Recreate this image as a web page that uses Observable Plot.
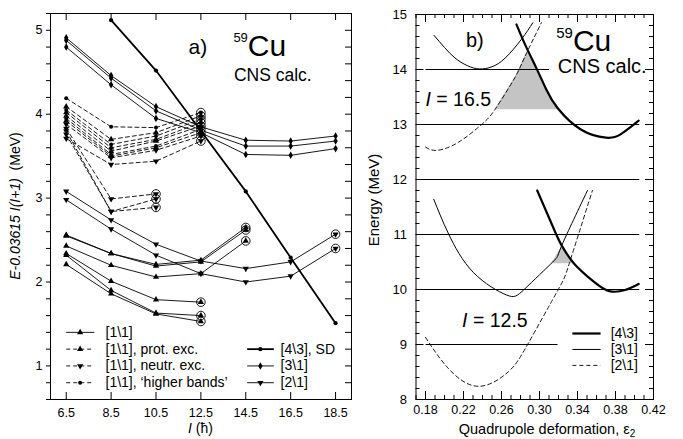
<!DOCTYPE html>
<html><head><meta charset="utf-8">
<script src="https://cdn.jsdelivr.net/npm/d3@7"></script>
<script src="https://cdn.jsdelivr.net/npm/@observablehq/plot@0.6"></script>
<style>
body{margin:0;background:#fff;}
#wrap{display:flex;width:683px;height:439px;overflow:hidden;}
svg{font-family:"Liberation Sans",Arial,sans-serif;overflow:visible;}
</style></head><body><div id="wrap"></div>
<script>
// ---------- Panel a) data ----------
const spins = [6.5, 8.5, 10.5, 12.5, 14.5, 16.5, 18.5];
const spinLabels = ["6.5", "8.5", "10.5", "12.5", "14.5", "16.5", "18.5"];
const yTicksA = [1, 2, 3, 4, 5];
// [4\3], SD
const sd43 = [null, 5.12, 4.52, 3.80, 3.08, 2.29, 1.51];
// [3\1]
const b31a = [4.91, 4.46, 4.09, 3.85, 3.69, 3.68, 3.74];
const b31b = [4.88, 4.43, 4.04, 3.81, 3.62, 3.62, 3.68];
const b31c = [4.80, 4.35, 3.95, 3.78, 3.52, 3.51, 3.59];
// [2\1]
const b21a = [3.08, 2.74, 2.45, 2.25, 2.16, 2.24, 2.57];
const b21b = [2.98, 2.63, 2.32, 2.10, 2.00, 2.07, 2.40];
// [1\1]
const b11a = [2.56, 2.34, 2.21, 2.26, 2.65];
const b11b = [2.55, 2.34, 2.19, 2.24, 2.62];
const b11c = [2.43, 2.20, 2.06, 2.10, 2.49];
const b11d = [2.34, 2.01, 1.79, 1.76];
const b11e = [2.32, 1.90, 1.63, 1.60];
const b11f = [2.21, 1.86, 1.62, 1.53];
// [1\1], 'higher bands'
const hb1 = [4.19, 3.85, 3.84, 4.02];
const hb2 = [4.05, 3.64, 3.74, 3.94];
const hb3 = [3.95, 3.52, 3.62, 3.82];
// [1\1], prot. exc.
const pe1 = [4.09, 3.70, 3.78, 3.98];
const pe2 = [4.02, 3.60, 3.70, 3.90];
const pe3 = [3.98, 3.56, 3.68, 3.86];
const pe4 = [3.92, 3.50, 3.60, 3.78];
// [1\1], neutr. exc.
const ne1 = [3.88, 3.48, 3.57, 3.74];
const ne2 = [3.71, 3.40, 3.44, 3.68];
const ne3 = [3.83, 2.99, 3.05];
const ne4 = [3.80, 2.84, 2.99];
const ne5 = [3.76, 2.84, 2.89];

const legendA = [
  {label: "[1\\1]", kind: "b11", col: 0, row: 0},
  {label: "[1\\1], prot. exc.", kind: "pe", col: 0, row: 1},
  {label: "[1\\1], neutr. exc.", kind: "ne", col: 0, row: 2},
  {label: "[1\\1], ‘higher bands’", kind: "hb", col: 0, row: 3},
  {label: "[4\\3], SD", kind: "sd", col: 1, row: 1},
  {label: "[3\\1]", kind: "b31", col: 1, row: 2},
  {label: "[2\\1]", kind: "b21", col: 1, row: 3}
];

// ---------- Panel b) data ----------
const defTicks = [0.18, 0.22, 0.26, 0.30, 0.34, 0.38, 0.42];
const energyTicks = [8, 9, 10, 11, 12, 13, 14, 15];
const levelE = [14, 13, 12, 11, 10, 9];
const levelFrom = [0.18, 0.175, 0.172, 0.172, 0.172, 0.18];
const levelTo = [0.31, 0.405, 0.405, 0.405, 0.405, 0.319];
// I = 16.5
const c31hi_e = [0.189, 0.200, 0.211, 0.224, 0.237, 0.250, 0.264, 0.281, 0.293];
const c31hi_E = [14.62, 14.40, 14.21, 14.07, 14.01, 14.05, 14.21, 14.55, 14.85];
const c21hi_e = [0.180, 0.192, 0.215, 0.239, 0.253, 0.274, 0.284, 0.302];
const c21hi_E = [12.59, 12.53, 12.68, 13.00, 13.27, 13.85, 14.21, 14.85];
const c43hi_e = [0.2757, 0.2857, 0.2966, 0.307, 0.319, 0.3435, 0.370, 0.3853, 0.4044];
const c43hi_E = [14.82, 14.42, 14.03, 13.64, 13.30, 12.91, 12.76, 12.82, 13.07];
const shadeHi_E = [13.27, 13.60, 13.85, 14.10, 14.30];
const shadeHi_lo = [0.253, 0.265, 0.274, 0.281, 0.2865];
const shadeHi_hi = [0.3195, 0.3098, 0.3025, 0.2947, 0.2880];
// I = 12.5
const c31lo_e = [0.1887, 0.2043, 0.2304, 0.2653, 0.2844, 0.3139, 0.3227, 0.3505];
const c31lo_E = [11.64, 11.01, 10.31, 9.90, 10.01, 10.50, 10.77, 11.80];
const c21lo_e = [0.180, 0.2043, 0.2356, 0.2669, 0.2878, 0.3191, 0.3313, 0.3557];
const c21lo_E = [9.13, 8.56, 8.24, 8.50, 9.01, 9.98, 10.47, 11.80];
const c43lo_e = [0.2976, 0.3174, 0.3244, 0.3365, 0.3574, 0.3735, 0.390, 0.4044];
const c43lo_E = [11.80, 11.01, 10.77, 10.47, 10.14, 9.97, 9.99, 10.10];
const shadeLo_E = [10.47, 10.62, 10.77];
const shadeLo_lo = [0.313, 0.318, 0.3232];
const shadeLo_hi = [0.3365, 0.3300, 0.3240];
const legendB = [
  {label: "[4\\3]", kind: "thick"},
  {label: "[3\\1]", kind: "thin"},
  {label: "[2\\1]", kind: "dashed"}
];

// ---------- build panel a ----------
const FONT = "Liberation Sans, Arial, sans-serif";
const kinds = {
  sd:  {dash: null, sw: 1.8, symbol: "circle", rot: 0, r: 2.1, end: false},
  b31: {dash: null, sw: 0.9, symbol: "diamond", rot: 0, r: 2.3, end: false},
  b21: {dash: null, sw: 0.9, symbol: "triangle", rot: 180, r: 2.3, end: true},
  b11: {dash: null, sw: 0.9, symbol: "triangle", rot: 0, r: 2.3, end: true},
  hb:  {dash: "4,3", sw: 0.9, symbol: "circle", rot: 0, r: 2.0, end: true},
  pe:  {dash: "4,3", sw: 0.9, symbol: "triangle", rot: 0, r: 2.3, end: true},
  ne:  {dash: "4,3", sw: 0.9, symbol: "triangle", rot: 180, r: 2.3, end: true}
};
const seriesA = [
  ["sd43", sd43, "sd"], ["b31a", b31a, "b31"], ["b31b", b31b, "b31"], ["b31c", b31c, "b31"],
  ["b21a", b21a, "b21"], ["b21b", b21b, "b21"],
  ["b11a", b11a, "b11"], ["b11b", b11b, "b11"], ["b11c", b11c, "b11"], ["b11d", b11d, "b11"], ["b11e", b11e, "b11"], ["b11f", b11f, "b11"],
  ["hb1", hb1, "hb"], ["hb2", hb2, "hb"], ["hb3", hb3, "hb"],
  ["pe1", pe1, "pe"], ["pe2", pe2, "pe"], ["pe3", pe3, "pe"], ["pe4", pe4, "pe"],
  ["ne1", ne1, "ne"], ["ne2", ne2, "ne"], ["ne3", ne3, "ne"], ["ne4", ne4, "ne"], ["ne5", ne5, "ne"]
];
const rowsA = [];
const endsA = [];
for (const [id, vals, kind] of seriesA) {
  const pts = [];
  vals.forEach((v, i) => { if (v != null) pts.push({id, kind, x: spins[i], y: v}); });
  rowsA.push(...pts);
  if (kinds[kind].end) endsA.push(pts[pts.length - 1]);
}

const xDomA = [5.80, 19.21], yDomA = [0.6, 5.2];
const mA = {left: 50, right: 9, top: 13, bottom: 40}, WA = 360, H = 439;
const kxA = (WA - mA.left - mA.right) / (xDomA[1] - xDomA[0]);
const kyA = (H - mA.top - mA.bottom) / (yDomA[1] - yDomA[0]);
const yMinorA = d3.range(3, 27).map(i => i / 5);

// legend layout (data units)
const legX = [[6.5, 7.75, 7.12, 8.25], [14.56, 15.75, 15.15, 16.05]];
const legY = [1.40, 1.20, 1.00, 0.80];
const legRows = legendA.map(d => ({...d, x1: legX[d.col][0], x2: legX[d.col][1], xm: legX[d.col][2], xt: legX[d.col][3], y: legY[d.row]}));

const marksA = [
  Plot.frame({stroke: "black", strokeWidth: 1}),
  Plot.axisX({ticks: spins, tickSize: 0, tickPadding: 9, tickFormat: (d, i) => spinLabels[i], label: null, fontSize: 12.5}),
  Plot.axisY({ticks: yTicksA, tickSize: 0, tickPadding: 8, tickFormat: d3.format("d"), label: null, fontSize: 12.5}),
  Plot.axisY({ticks: yMinorA, tickSize: 4, tickFormat: () => "", label: null}),
  Plot.ruleY(yMinorA, {x1: xDomA[1] - 6 / kxA, x2: xDomA[1], stroke: "black", strokeWidth: 1}),
  Plot.ruleX(spins, {y1: yDomA[1] - 7 / kyA, y2: yDomA[1], stroke: "black", strokeWidth: 1}),
  Plot.ruleX(spins, {y1: yDomA[0], y2: yDomA[0] + 7 / kyA, stroke: "black", strokeWidth: 1})
];
for (const k of Object.keys(kinds)) {
  const st = kinds[k];
  const rows = rowsA.filter(d => d.kind === k);
  marksA.push(Plot.line(rows, {x: "x", y: "y", z: "id", stroke: "black", strokeWidth: st.sw, strokeDasharray: st.dash}));
}
for (const k of Object.keys(kinds)) {
  const st = kinds[k];
  const rows = rowsA.filter(d => d.kind === k);
  marksA.push(Plot.dot(rows, {x: "x", y: "y", symbol: st.symbol, rotate: st.rot, r: st.r, fill: "black", stroke: "none"}));
}
marksA.push(Plot.dot(endsA, {x: "x", y: "y", r: 4.3, stroke: "black", strokeWidth: 0.9, fill: "none"}));
// legend
for (const d of legRows) {
  const st = kinds[d.kind];
  marksA.push(Plot.link([d], {x1: "x1", x2: "x2", y1: "y", y2: "y", stroke: "black", strokeWidth: st.sw, strokeDasharray: st.dash}));
  marksA.push(Plot.dot([d], {x: "xm", y: "y", symbol: st.symbol, rotate: st.rot, r: st.r, fill: "black", stroke: "none"}));
}
marksA.push(Plot.text(legRows, {x: "xt", y: "y", text: "label", textAnchor: "start", lineAnchor: "middle", fontSize: 14, fill: "black"}));
// annotations
marksA.push(Plot.text(["a)"], {x: 11.95, y: 4.72, text: d => d, textAnchor: "start", lineAnchor: "bottom", fontSize: 21, fill: "black"}));
marksA.push(Plot.text(["CNS calc."], {x: 13.97, y: 4.40, text: d => d, textAnchor: "start", lineAnchor: "bottom", fontSize: 17.5, fill: "black"}));

const plotA = Plot.plot({
  width: WA, height: H,
  marginLeft: mA.left, marginRight: mA.right, marginTop: mA.top, marginBottom: mA.bottom,
  x: {domain: xDomA}, y: {domain: yDomA},
  style: {fontFamily: FONT, fontSize: "12.5px", color: "black", background: "white", overflow: "visible"},
  marks: marksA
});

// ---------- build panel b ----------
const xDomB = [0.17, 0.42], yDomB = [8, 15];
const mB = {left: 55.5, right: 30, top: 14, bottom: 40}, WB = 323;
const kxB = (WB - mB.left - mB.right) / (xDomB[1] - xDomB[0]);
const kyB = (H - mB.top - mB.bottom) / (yDomB[1] - yDomB[0]);
const yMinorB = d3.range(40, 76).map(i => i / 5).filter(v => Math.abs(v - Math.round(v)) > 1e-6);
const xMinorB = d3.range(17, 43).map(i => i / 100);
const xMajorB = defTicks;

const toRows = (id, es, Es) => es.map((e, i) => ({id, e, E: Es[i]}));
const thickRows = [...toRows("hi", c43hi_e, c43hi_E), ...toRows("lo", c43lo_e, c43lo_E)];
const thinRows = [...toRows("hi", c31hi_e, c31hi_E), ...toRows("lo", c31lo_e, c31lo_E)];
const dashRows = [...toRows("hi", c21hi_e, c21hi_E), ...toRows("lo", c21lo_e, c21lo_E)];
const shadeRows = [
  ...shadeHi_E.map((E, i) => ({id: "hi", E, lo: shadeHi_lo[i], hi: shadeHi_hi[i]})),
  ...shadeLo_E.map((E, i) => ({id: "lo", E, lo: shadeLo_lo[i], hi: shadeLo_hi[i]}))
];
const levels = levelE.map((E, i) => ({E, a: levelFrom[i], b: levelTo[i]}));
const legBX = [0.3346, 0.3643, 0.3749];
const legBY = [9.20, 8.91, 8.62];
const legBStyle = {thick: {sw: 2.2, dash: null}, thin: {sw: 1, dash: null}, dashed: {sw: 0.9, dash: "4,3"}};
const legBRows = legendB.map((d, i) => ({...d, y: legBY[i]}));

const marksB = [
  Plot.areaX(shadeRows, {y: "E", x1: "lo", x2: "hi", z: "id", fill: "#c4c4c4"}),
  Plot.link(levels, {x1: "a", x2: "b", y1: "E", y2: "E", stroke: "black", strokeWidth: 1}),
  Plot.line(thinRows, {x: "e", y: "E", z: "id", curve: "natural", stroke: "black", strokeWidth: 1}),
  Plot.line(dashRows, {x: "e", y: "E", z: "id", curve: "natural", stroke: "black", strokeWidth: 0.9, strokeDasharray: "4,3"}),
  Plot.line(thickRows, {x: "e", y: "E", z: "id", curve: "natural", stroke: "black", strokeWidth: 2.2}),
  Plot.frame({stroke: "black", strokeWidth: 1}),
  Plot.axisX({ticks: xMajorB, tickSize: 0, tickPadding: 6, tickFormat: d3.format(".2f"), label: null, fontSize: 12.5}),
  Plot.axisY({ticks: energyTicks, tickSize: 0, tickPadding: 9, tickFormat: d3.format("d"), label: null, fontSize: 13}),
  Plot.ruleY(energyTicks, {x1: xDomB[0], x2: xDomB[0] + 8 / kxB, stroke: "black"}),
  Plot.ruleY(energyTicks, {x1: xDomB[1] - 8 / kxB, x2: xDomB[1], stroke: "black"}),
  Plot.ruleY(yMinorB, {x1: xDomB[0], x2: xDomB[0] + 4 / kxB, stroke: "black"}),
  Plot.ruleY(yMinorB, {x1: xDomB[1] - 4 / kxB, x2: xDomB[1], stroke: "black"}),
  Plot.ruleX(xMinorB, {y1: yDomB[0], y2: yDomB[0] + 4 / kyB, stroke: "black"}),
  Plot.ruleX(xMinorB, {y1: yDomB[1] - 4 / kyB, y2: yDomB[1], stroke: "black"}),
  Plot.ruleX(xMajorB, {y1: yDomB[0], y2: yDomB[0] + 8 / kyB, stroke: "black"}),
  Plot.ruleX(xMajorB, {y1: yDomB[1] - 8 / kyB, y2: yDomB[1], stroke: "black"})
];
for (const d of legBRows) {
  const st = legBStyle[d.kind];
  marksB.push(Plot.link([d], {x1: () => legBX[0], x2: () => legBX[1], y1: "y", y2: "y", stroke: "black", strokeWidth: st.sw, strokeDasharray: st.dash}));
}
marksB.push(Plot.text(legBRows, {x: () => legBX[2], y: "y", text: "label", textAnchor: "start", lineAnchor: "middle", fontSize: 14, fill: "black"}));
marksB.push(Plot.text(["b)"], {x: 0.2225, y: 14.405, text: d => d, textAnchor: "start", lineAnchor: "bottom", fontSize: 20, fill: "black"}));
marksB.push(Plot.text(["CNS calc."], {x: 0.3192, y: 13.945, text: d => d, textAnchor: "start", lineAnchor: "bottom", fontSize: 20, fill: "black"}));

const plotB = Plot.plot({
  width: WB, height: H,
  marginLeft: mB.left, marginRight: mB.right, marginTop: mB.top, marginBottom: mB.bottom,
  x: {domain: xDomB}, y: {domain: yDomB},
  style: {fontFamily: FONT, fontSize: "13px", color: "black", background: "white", overflow: "visible"},
  marks: marksB
});

// ---------- mixed-style labels ----------
function addText(svg, x, y, parts, opts = {}) {
  const t = d3.select(svg).append("text")
    .attr("x", x).attr("y", y)
    .attr("font-family", FONT).attr("font-size", opts.size || 14)
    .attr("text-anchor", opts.anchor || "middle").attr("fill", "black");
  if (opts.rotate) t.attr("transform", `rotate(${opts.rotate},${x},${y})`);
  for (const p of parts) {
    const s = t.append("tspan").text(p.t);
    if (p.italic) s.attr("font-style", "italic");
    if (p.size) s.attr("font-size", p.size);
    if (p.dy) s.attr("dy", p.dy);
  }
  return t;
}
const sxA = plotA.scale("x"), syA = plotA.scale("y");
addText(plotA, (mA.left + WA - mA.right) / 2, 433, [{t: "I", italic: true}, {t: " (ħ)"}], {size: 14});
addText(plotA, 20, (mA.top + H - mA.bottom) / 2, [{t: "E-0.03615 I(I+1)", italic: true}, {t: "  (MeV)"}], {size: 14, rotate: -90});
addText(plotA, sxA.apply(13.97), syA.apply(4.69), [{t: "59", size: 13, dy: -14}, {t: "Cu", size: 30, dy: 14}], {size: 30, anchor: "start"});
const sxB = plotB.scale("x"), syB = plotB.scale("y");
addText(plotB, 187, 434, [{t: "Quadrupole deformation, ε"}, {t: "2", size: 10, dy: 3}], {size: 14.5});
addText(plotB, 19, 200, [{t: "Energy (MeV)"}], {size: 15, rotate: -90});
addText(plotB, sxB.apply(0.3181), syB.apply(14.327), [{t: "59", size: 15, dy: -13}, {t: "Cu", size: 30, dy: 13}], {size: 30, anchor: "start"});
addText(plotB, sxB.apply(0.1805), syB.apply(13.33), [{t: "I", italic: true}, {t: " = 16.5"}], {size: 19.5, anchor: "start"});
addText(plotB, sxB.apply(0.219), syB.apply(9.315), [{t: "I", italic: true}, {t: " = 12.5"}], {size: 19.5, anchor: "start"});

document.getElementById("wrap").append(plotA, plotB);
</script></body></html>
